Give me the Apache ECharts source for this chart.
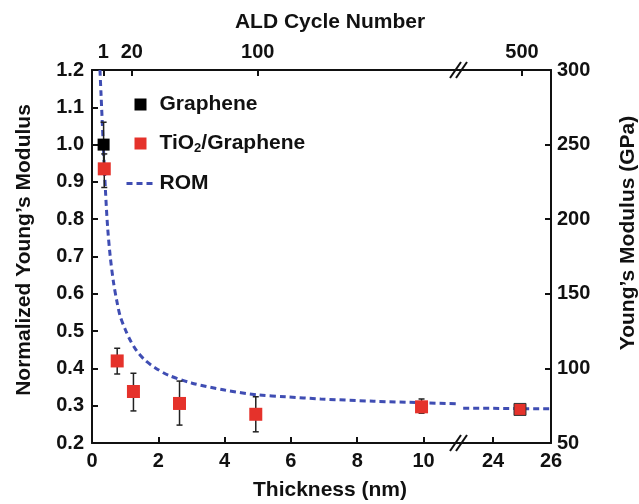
<!DOCTYPE html>
<html>
<head>
<meta charset="utf-8">
<script src="https://cdn.jsdelivr.net/npm/echarts@6/dist/echarts.min.js"></script>
<style>
  html, body { margin: 0; padding: 0; background: #fff; }
  #chart { width: 639px; height: 504px; }
</style>
</head>
<body>
<div id="chart"></div>
<script>
// ---------------- data ----------------
const bottomTicksLeft = [0, 2, 4, 6, 8, 10];
const bottomTicksRight = [24, 26];
const leftAxisMin = 0.2, leftAxisMax = 1.2, leftAxisStep = 0.1;
const rightAxisMin = 50, rightAxisMax = 300, rightAxisStep = 50;

const aldCycleLabels = ['1', '20', '100', '500'];
const aldThickness = [0.34, 1.2, 5.0, 25.0];

const grapheneX = [0.35];
const grapheneY = [1.0];
const grapheneLow = [0.94];
const grapheneHigh = [1.06];

const tioX = [0.37, 0.76, 1.25, 2.64, 4.94, 9.94, 24.93];
const tioY = [0.935, 0.42, 0.338, 0.306, 0.277, 0.297, 0.29];
const tioLow = [0.885, 0.385, 0.286, 0.248, 0.230, 0.28, 0.282];
const tioHigh = [0.975, 0.454, 0.387, 0.366, 0.324, 0.318, 0.298];

const romXLeft = [0.24, 0.27, 0.34, 0.41, 0.47, 0.55, 0.65, 0.75, 0.85, 1.0, 1.15, 1.35, 1.6, 1.9, 2.3, 3.0, 4.0, 5.0, 5.85, 6.9, 8.5, 9.94, 11.05];
const romYLeft = [1.2, 1.14, 1.0, 0.87, 0.78, 0.70, 0.63, 0.58, 0.54, 0.505, 0.476, 0.447, 0.422, 0.402, 0.382, 0.361, 0.342, 0.329, 0.324, 0.318, 0.312, 0.308, 0.305];
const romXRight = [22.97, 24.0, 25.0, 26.0];
const romYRight = [0.293, 0.293, 0.292, 0.292];

// ---------------- layout / style ----------------
const FONT = "'Liberation Sans', Arial, Helvetica, sans-serif";
const INK = '#111';
const RED = '#e5322b';
const BLUE = '#3f4db3';
const PLOT_L = 92, PLOT_T = 70, PLOT_R = 551, PLOT_B = 443;
const BREAK_X = 460;
const SEG1_MAX = 11.1, SEG2_MIN = 22.86, SEG2_MAX = 26;

const zip = (xs, ys) => xs.map((x, i) => [x, ys[i]]);
const zip3 = (xs, lo, hi) => xs.map((x, i) => [x, lo[i], hi[i]]);
const splitAt = (xs, limit, right) => xs.map((x, i) => i).filter(i => right ? xs[i] > limit : xs[i] <= limit);

const leftIdx = splitAt(tioX, SEG1_MAX, false);
const rightIdx = splitAt(tioX, SEG1_MAX, true);
const pick = (arr, idx) => idx.map(i => arr[i]);

const tickLabel = { fontFamily: FONT, fontWeight: 'bold', fontSize: 20, color: INK };
const axisLineStyle = { show: true, lineStyle: { color: INK, width: 2 } };
const tickStyle = (vals) => ({ show: true, inside: true, length: 6, lineStyle: { color: INK, width: 2 }, customValues: vals });

function errRender(params, api) {
  const x = api.value(0), lo = api.value(1), hi = api.value(2);
  const pHi = api.coord([x, hi]);
  const pLo = api.coord([x, lo]);
  const w = 3;
  const st = { stroke: '#222', lineWidth: 1.5 };
  return {
    type: 'group',
    children: [
      { type: 'line', shape: { x1: pHi[0], y1: pHi[1], x2: pLo[0], y2: pLo[1] }, style: st },
      { type: 'line', shape: { x1: pHi[0] - w, y1: pHi[1], x2: pHi[0] + w, y2: pHi[1] }, style: st },
      { type: 'line', shape: { x1: pLo[0] - w, y1: pLo[1], x2: pLo[0] + w, y2: pLo[1] }, style: st }
    ]
  };
}

const SQ = 'path://M0,0H10V10H0Z';
const aldFmt = (v) => {
  const i = aldThickness.findIndex(t => Math.abs(t - v) < 1e-6);
  return i >= 0 ? aldCycleLabels[i] : '';
};

function breakMark(yc) {
  return [-10, -4].map(dx => ({
    type: 'line',
    shape: { x1: BREAK_X + dx, y1: yc + 8, x2: BREAK_X + dx + 11, y2: yc - 8 },
    style: { stroke: INK, lineWidth: 2 },
    z: 100
  }));
}

const chart = echarts.init(document.getElementById('chart'), null, { renderer: 'canvas' });
chart.setOption({
  backgroundColor: '#fff',
  animation: false,
  grid: [
    { left: PLOT_L, top: PLOT_T, width: BREAK_X - PLOT_L, height: PLOT_B - PLOT_T },
    { left: BREAK_X, top: PLOT_T, width: PLOT_R - BREAK_X, height: PLOT_B - PLOT_T }
  ],
  xAxis: [
    { gridIndex: 0, type: 'value', position: 'bottom', min: 0, max: SEG1_MAX,
      axisLine: axisLineStyle, axisTick: tickStyle(bottomTicksLeft), splitLine: { show: false },
      axisLabel: Object.assign({ margin: 8, customValues: bottomTicksLeft }, tickLabel) },
    { gridIndex: 0, type: 'value', position: 'top', min: 0, max: SEG1_MAX,
      axisLine: axisLineStyle, axisTick: tickStyle(aldThickness.filter(t => t <= SEG1_MAX)), splitLine: { show: false },
      axisLabel: Object.assign({ margin: 8, customValues: aldThickness.filter(t => t <= SEG1_MAX), formatter: aldFmt }, tickLabel) },
    { gridIndex: 1, type: 'value', position: 'bottom', min: SEG2_MIN, max: SEG2_MAX,
      axisLine: axisLineStyle, axisTick: tickStyle(bottomTicksRight), splitLine: { show: false },
      axisLabel: Object.assign({ margin: 8, customValues: bottomTicksRight, showMaxLabel: true }, tickLabel) },
    { gridIndex: 1, type: 'value', position: 'top', min: SEG2_MIN, max: SEG2_MAX,
      axisLine: axisLineStyle, axisTick: tickStyle(aldThickness.filter(t => t > SEG1_MAX)), splitLine: { show: false },
      axisLabel: Object.assign({ margin: 8, customValues: aldThickness.filter(t => t > SEG1_MAX), formatter: aldFmt }, tickLabel) }
  ],
  yAxis: [
    { gridIndex: 0, type: 'value', position: 'left', min: leftAxisMin, max: leftAxisMax, interval: leftAxisStep,
      axisLine: axisLineStyle, axisTick: { show: true, inside: true, length: 6, lineStyle: { color: INK, width: 2 } },
      splitLine: { show: false },
      axisLabel: Object.assign({ margin: 8, formatter: v => v.toFixed(1) }, tickLabel) },
    { gridIndex: 1, type: 'value', position: 'left', min: leftAxisMin, max: leftAxisMax, show: false },
    { gridIndex: 1, type: 'value', position: 'right', min: rightAxisMin, max: rightAxisMax, interval: rightAxisStep,
      axisLine: axisLineStyle, axisTick: { show: true, inside: true, length: 6, lineStyle: { color: INK, width: 2 } },
      splitLine: { show: false },
      axisLabel: Object.assign({ margin: 6 }, tickLabel) }
  ],
  legend: {
    orient: 'vertical', left: 120, top: 89, itemGap: 18, itemWidth: 28, itemHeight: 12,
    data: [
      { name: 'Graphene', icon: SQ },
      { name: 'TiO2/Graphene', icon: SQ },
      { name: 'ROM', itemStyle: { color: 'rgba(0,0,0,0)', borderColor: 'rgba(0,0,0,0)', borderWidth: 0 },
        lineStyle: { width: 3 } }
    ],
    formatter: name => name === 'TiO2/Graphene' ? 'TiO{s|2}/Graphene' : name,
    textStyle: {
      fontFamily: FONT, fontWeight: 'bold', fontSize: 21, color: INK,
      rich: { s: { fontFamily: FONT, fontWeight: 'bold', fontSize: 13, color: INK, padding: [10, 0, 0, 0] } }
    },
    selectedMode: false
  },
  graphic: [
    { type: 'text', x: 330, y: 22, style: { text: 'ALD Cycle Number', font: `bold 21px ${FONT}`, fill: INK, align: 'center', verticalAlign: 'middle' } },
    { type: 'text', x: 330, y: 490, style: { text: 'Thickness (nm)', font: `bold 21px ${FONT}`, fill: INK, align: 'center', verticalAlign: 'middle' } },
    { type: 'text', x: 24, y: 250, rotation: Math.PI / 2, style: { text: "Normalized Young\u2019s Modulus", font: `bold 21px ${FONT}`, fill: INK, align: 'center', verticalAlign: 'middle' } },
    { type: 'text', x: 628, y: 233, rotation: Math.PI / 2, style: { text: "Young\u2019s Modulus (GPa)", font: `bold 21px ${FONT}`, fill: INK, align: 'center', verticalAlign: 'middle' } }
  ].concat(breakMark(PLOT_T), breakMark(PLOT_B)),
  series: [
    { name: 'ROM', type: 'line', xAxisIndex: 0, yAxisIndex: 0, data: zip(romXLeft, romYLeft),
      smooth: 0.3, showSymbol: false, symbol: 'none', z: 1,
      lineStyle: { color: BLUE, width: 3, type: [6, 4] }, itemStyle: { color: BLUE } },
    { name: 'ROM', type: 'line', xAxisIndex: 2, yAxisIndex: 1, data: zip(romXRight, romYRight),
      showSymbol: false, symbol: 'none', z: 1,
      lineStyle: { color: BLUE, width: 3, type: [6, 4] }, itemStyle: { color: BLUE } },
    { name: 'errG', type: 'custom', xAxisIndex: 0, yAxisIndex: 0, renderItem: errRender, z: 2,
      data: zip3(grapheneX, grapheneLow, grapheneHigh), encode: { x: 0, y: [1, 2] } },
    { name: 'errT1', type: 'custom', xAxisIndex: 0, yAxisIndex: 0, renderItem: errRender, z: 2,
      data: zip3(pick(tioX, leftIdx), pick(tioLow, leftIdx), pick(tioHigh, leftIdx)), encode: { x: 0, y: [1, 2] } },
    { name: 'errT2', type: 'custom', xAxisIndex: 2, yAxisIndex: 1, renderItem: errRender, z: 2,
      data: zip3(pick(tioX, rightIdx), pick(tioLow, rightIdx), pick(tioHigh, rightIdx)), encode: { x: 0, y: [1, 2] } },
    { name: 'Graphene', type: 'scatter', xAxisIndex: 0, yAxisIndex: 0, data: zip(grapheneX, grapheneY),
      symbol: 'rect', symbolSize: 12, itemStyle: { color: '#000', opacity: 1 }, z: 3 },
    { name: 'TiO2/Graphene', type: 'scatter', xAxisIndex: 0, yAxisIndex: 0, data: zip(pick(tioX, leftIdx), pick(tioY, leftIdx)),
      symbol: 'rect', symbolSize: 13, itemStyle: { color: RED, opacity: 1 }, z: 4 },
    { name: 'TiO2/Graphene', type: 'scatter', xAxisIndex: 2, yAxisIndex: 1, data: zip(pick(tioX, rightIdx), pick(tioY, rightIdx)),
      symbol: 'rect', symbolSize: 12, itemStyle: { color: RED, borderColor: '#333', borderWidth: 1, opacity: 1 }, z: 4 }
  ]
});
</script>
</body>
</html>
